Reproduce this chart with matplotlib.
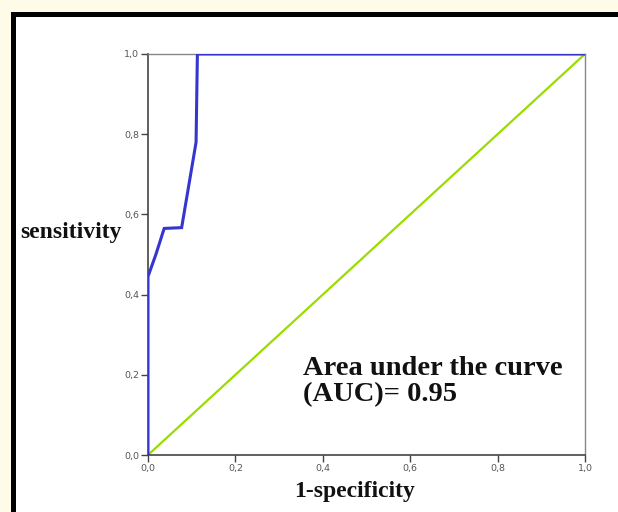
import matplotlib
matplotlib.use("Agg")
import matplotlib.pyplot as plt
from matplotlib.patches import Rectangle

# ---------------------------------------------------------------- data
fpr = [0.0, 0.0, 0.018, 0.037, 0.077, 0.110, 0.113, 1.0]
tpr = [0.0, 0.445, 0.50, 0.565, 0.567, 0.78, 1.0, 1.0]
ref_line = [0.0, 1.0]
ticks = [0.0, 0.2, 0.4, 0.6, 0.8, 1.0]
tick_labels = ["0,0", "0,2", "0,4", "0,6", "0,8", "1,0"]
auc_text = "Area under the curve\n(AUC)= 0.95"

# ---------------------------------------------------------------- figure
fig = plt.figure(figsize=(6.18, 5.12), dpi=100)
fig.patch.set_facecolor("#fffbe9")
W, H = 618, 512
# white panel with thick black frame on top/left (right/bottom run off the picture)
fig.add_artist(Rectangle((12.5 / W, -0.1), 1.0, 1.1 - 13.5 / H, transform=fig.transFigure,
                         facecolor="white", edgecolor="black", linewidth=3.6, zorder=0))

ax = fig.add_axes([148 / W, 1 - 455 / H, 437 / W, 401 / H])
ax.set_facecolor("none")

ax.plot(ref_line, ref_line, color="#99dd00", linewidth=1.6, zorder=2)
ax.plot(fpr, tpr, color="#3535d0", linewidth=2.2, zorder=3, solid_joinstyle="miter")

ax.set_xlim(0, 1)
ax.set_ylim(0, 1)
ax.set_xticks(ticks)
ax.set_xticklabels(tick_labels)
ax.set_yticks(ticks)
ax.set_yticklabels(tick_labels)
ax.tick_params(direction="out", length=5, width=1.0, color="#444444",
               labelsize=6.8, labelcolor="#555555", pad=1.5)

for side in ["left", "bottom"]:
    ax.spines[side].set_color("#444444")
    ax.spines[side].set_linewidth(1.2)
for side in ["top", "right"]:
    ax.spines[side].set_color("#888888")
    ax.spines[side].set_linewidth(1.0)

serif = {"family": "Liberation Serif", "weight": "bold"}
ax.text(0.355, 0.135, auc_text, fontsize=20.5, va="baseline", ha="left",
        linespacing=1.05, fontdict=serif, color="#111111")
fig.text(20 / W, 1 - 238 / H, "sensitivity", fontsize=17, va="baseline", ha="left",
         fontdict=serif, color="#111111")
fig.text(355 / W, 1 - 497 / H, "1-specificity", fontsize=17, va="baseline", ha="center",
         fontdict=serif, color="#111111")

fig.savefig("out.png", dpi=100, facecolor=fig.get_facecolor())
